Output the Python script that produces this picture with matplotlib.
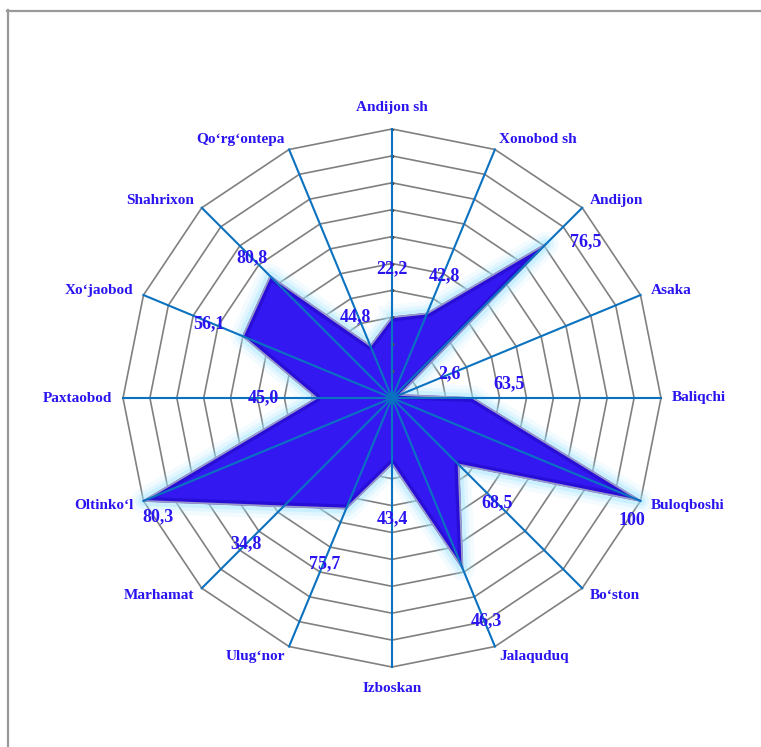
import numpy as np
import matplotlib.pyplot as plt
from matplotlib.lines import Line2D

# tumanlar (o'qlar soat strelkasi bo'yicha, tepadan boshlab)
categories = ["Andijon sh", "Xonobod sh", "Andijon", "Asaka", "Baliqchi", "Buloqboshi",
              "Bo‘ston", "Jalaquduq", "Izboskan", "Ulug‘nor", "Marhamat", "Oltinko‘l",
              "Paxtaobod", "Xo‘jaobod", "Shahrixon", "Qo‘rg‘ontepa"]
values = [30, 34, 81, 3, 30, 100, 35, 68.5, 24.5, 44.5, 57, 100, 28, 60, 64, 21]

# yozuvlar (diagrammadagi raqamlar)
value_labels = ["22,2", "42,8", "76,5", "2,6", "63,5", "100", "68,5", "46,3",
                "43,4", "75,7", "34,8", "80,3", "45,0", "56,1", "80,8", "44,8"]
label_angle = [0, 23, 51, 67, 83, 117, 135, 157, 180, 202, 225, 243, 270, 292, 315, 336]
label_r = [48, 49.5, 92.5, 23, 44, 100, 55, 90, 45, 66.5, 76.5, 97.5, 48, 73.5, 73.5, 33]
rings = np.arange(10, 101, 10)

txt_color = '#2a14f0'
n = len(categories)
theta = np.linspace(0, 2 * np.pi, n, endpoint=False)
theta_c = np.append(theta, theta[0])
vals_c = np.append(values, values[0])

fig = plt.figure(figsize=(7.61, 7.47), dpi=100)
ax = fig.add_axes([123 / 761, 80 / 747, 538 / 761, 538 / 747], projection='polar')
ax.set_theta_offset(np.pi / 2)
ax.set_theta_direction(-1)
ax.set_ylim(0, 100)
ax.set_axis_off()

# halqalar
for r in rings:
    ax.plot(theta_c, [r] * (n + 1), color='#808080', lw=1.2, zorder=1, clip_on=False)

# nurlanish (glow)
for lw, a in [(18, 0.12), (12, 0.2), (7, 0.35)]:
    ax.plot(theta_c, vals_c, color='#9fe6ff', lw=lw, alpha=a, zorder=2,
            solid_joinstyle='round', clip_on=False)

poly = ax.fill(theta_c, vals_c, color='#3318f2', zorder=3, clip_on=False)[0]
inner = ax.plot(theta_c, vals_c, color='#1a00b0', lw=6, alpha=0.4, zorder=3.5)[0]
inner.set_clip_path(poly)
ax.plot(theta_c, vals_c, color='#9a9ac8', lw=1.3, zorder=4, clip_on=False)

# o'qlar
for t in theta:
    ax.plot([t, t], [0, 100], color='#0a72c0', lw=1.5, zorder=5, clip_on=False)
ax.plot([0] * len(rings), rings, ls='none', marker='_', ms=3, mew=1,
        color='#505050', zorder=4.5)

# kategoriya nomlari
for t, name in zip(theta, categories):
    s = np.sin(t)
    if s > 0.1:
        ha, r = 'left', 104
    elif s < -0.1:
        ha, r = 'right', 104
    else:
        ha, r = 'center', 108
    ax.text(t, r, name, ha=ha, va='center', fontsize=11, fontweight='bold',
            family='Liberation Serif', color=txt_color, zorder=6)

# qiymat yozuvlari
for lab, a, r in zip(value_labels, label_angle, label_r):
    ax.text(np.deg2rad(a), r, lab, ha='center', va='center', fontsize=13, fontweight='bold',
            family='Liberation Serif', color=txt_color, zorder=6)

# ramka
fig.add_artist(Line2D([7.5 / 761, 7.5 / 761], [0, 1 - 10 / 747], color='#999999', lw=1.6))
fig.add_artist(Line2D([7 / 761, 1], [1 - 10.5 / 747, 1 - 10.5 / 747], color='#999999', lw=1.6))

fig.savefig('out.png', dpi=100)
